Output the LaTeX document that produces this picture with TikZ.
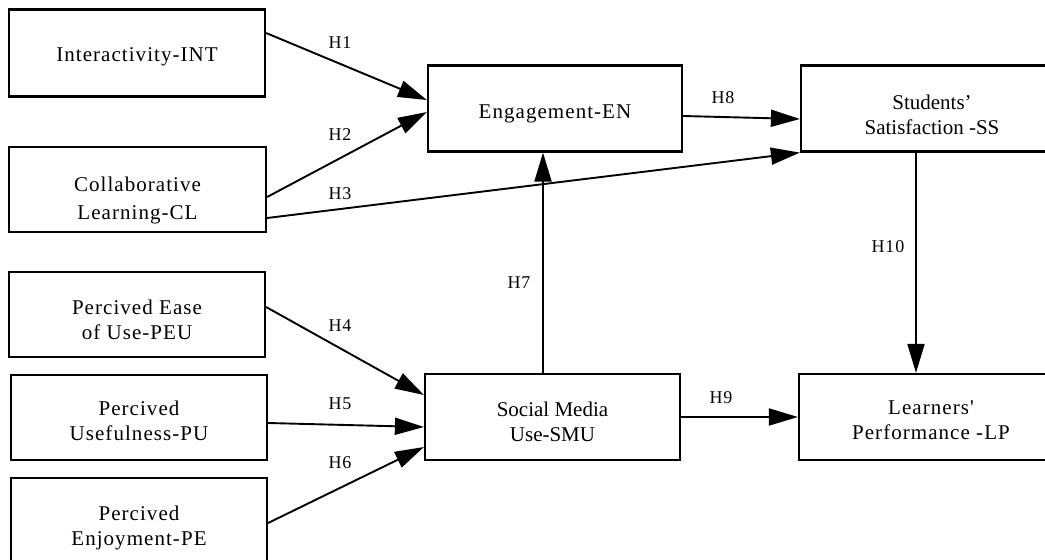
\documentclass[tikz,border=0pt]{standalone}
\usepackage{fontspec}
\setmainfont{Liberation Serif}
\newfontfamily\spacedfont[LetterSpace=5]{Liberation Serif}
\usetikzlibrary{arrows.meta}
\begin{document}
\begin{tikzpicture}[x=1pt,y=-1pt,
  box/.style={draw, line width=2.2pt, minimum width=256pt, minimum height=86pt, inner sep=0pt},
  txt/.style={inner sep=0pt, align=center, font=\fontsize{21}{25}\selectfont},
  stxt/.style={txt, font=\fontsize{21}{25}\selectfont\spacedfont},
  arr/.style={line width=1.9pt, -{Triangle[length=29pt,width=17pt]}},
  hyp/.style={font=\fontsize{18}{20}\selectfont\spacedfont, inner sep=1pt}]
\useasboundingbox (0,0) rectangle (1045,560);
\fill[white] (0,0) rectangle (1045,560);
\clip (0,0) rectangle (1045,560);

% boxes
\node[box, minimum height=87pt] (int) at (137,53) {};
\node[box, minimum width=257pt, minimum height=85pt] (cl) at (137.5,189.5) {};
\node[box, minimum height=85pt] (peu) at (137,314.5) {};
\node[box, minimum height=85pt] (pu) at (139,417.5) {};
\node[box] (pe) at (139,521) {};
\node[box, minimum width=254pt] (en) at (555,108.5) {};
\node[box, minimum width=255pt] (smu) at (552.5,417) {};
\node[box, minimum width=262pt] (ss) at (932,108.5) {};
\node[box, minimum width=264pt] (lp) at (931,417) {};

% box texts
\node[stxt] (int-t) at ([yshift=-4pt]int.center) {Interactivity-INT};
\node[stxt, font=\fontsize{21}{28}\selectfont\spacedfont] (cl-t) at ([yshift=-10.5pt]cl.center) {Collaborative\\Learning-CL};
\node[stxt] (peu-t) at ([yshift=-5pt]peu.center) {Percived Ease\\of Use-PEU};
\node[stxt] (pu-t) at ([yshift=-3pt]pu.center) {Percived\\Usefulness-PU};
\node[stxt] (pe-t) at ([yshift=-7pt]pe.center) {Percived\\Enjoyment-PE};
\node[stxt] (en-t) at ([yshift=-5pt]en.center) {Engagement-EN};
\node[txt] (smu-t) at ([yshift=-5pt]smu.center) {Social Media\\Use-SMU};
\node[txt] (ss-t) at ([yshift=-6pt]ss.center) {Students'\\Satisfaction -SS};
\node[stxt] (lp-t) at ([yshift=-3pt]lp.center) {Learners'\\Performance -LP};

% connectors
\draw[arr] ([yshift=20pt]int.east) -- ([yshift=8.5pt]en.west);
\draw[arr] ([yshift=-7.5pt]cl.east) -- ([yshift=-3.5pt]en.west);
\draw[arr] ([yshift=-28.5pt]cl.east) -- (ss.south west);
\draw[arr] ([yshift=7.5pt]peu.east) -- ([yshift=22pt]smu.west);
\draw[arr] ([yshift=-5.5pt]pu.east) -- ([yshift=-10pt]smu.west);
\draw[arr] ([yshift=-2pt]pe.east) -- ([yshift=-30pt]smu.west);
\draw[arr] ([xshift=-9.5pt]smu.north) -- ([xshift=-9.5pt]smu.north |- en.south);
\draw[arr] ([yshift=-7.5pt]en.east) -- ([yshift=-10.5pt]ss.west);
\draw[arr] (smu.east) -- (lp.west);
\draw[arr] ([xshift=-16pt]ss.south) -- ([xshift=-16pt]ss.south |- lp.north);

% hypothesis labels
\node[hyp] (h1) at (340,43) {H1};
\node[hyp] (h2) at (340,135) {H2};
\node[hyp] (h3) at (340,194) {H3};
\node[hyp] (h4) at (340,326) {H4};
\node[hyp] (h5) at (340,404) {H5};
\node[hyp] (h6) at (340,463) {H6};
\node[hyp] (h7) at (519,283) {H7};
\node[hyp] (h8) at (723,98) {H8};
\node[hyp] (h9) at (721,398) {H9};
\node[hyp] (h10) at (888,247) {H10};
\end{tikzpicture}
\end{document}
